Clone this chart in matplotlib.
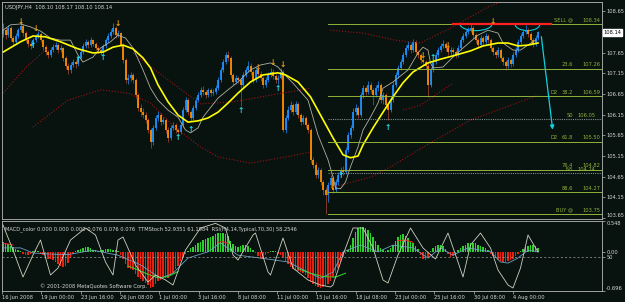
import numpy as np
import matplotlib.pyplot as plt
from matplotlib.patches import Arc
from matplotlib.transforms import blended_transform_factory

plt.rcParams['font.family'] = ['DejaVu Sans']

# USDJPY H4, 16 Jun - 4 Aug 2008
first_open = 108.10
closes = [108.19, 108.07, 108.24, 108.00, 107.91, 108.05, 108.19, 108.29, 108.12, 107.95,
          107.86, 107.81, 107.95, 108.05, 108.10, 107.95, 107.78, 107.66, 107.59, 107.71,
          107.78, 107.83, 107.71, 107.76, 107.52, 107.33, 107.23, 107.35, 107.42, 107.37,
          107.52, 107.66, 107.81, 107.91, 107.83, 107.95, 107.86, 107.76, 107.71, 107.66,
          107.81, 107.95, 108.05, 108.15, 108.24, 108.07, 108.12, 107.83, 107.47, 106.99,
          107.04, 107.11, 106.99, 106.62, 106.31, 106.21, 106.14, 106.02, 105.78, 105.49,
          105.83, 106.07, 106.14, 105.97, 106.02, 105.78, 105.59, 105.83, 105.90, 105.78,
          105.73, 105.90, 106.26, 106.50, 106.21, 106.07, 106.31, 106.50, 106.62, 106.75,
          106.70, 106.62, 106.75, 106.67, 106.70, 106.79, 106.99, 107.23, 107.42, 107.59,
          107.52, 107.11, 106.94, 107.04, 106.99, 106.87, 107.11, 107.23, 107.33, 107.18,
          106.99, 107.23, 107.13, 107.04, 106.87, 106.99, 107.11, 107.18, 107.08, 106.99,
          107.04, 107.18, 105.78, 106.07, 106.26, 106.38, 106.21, 106.41, 106.14, 105.97,
          106.07, 105.90, 105.78, 105.06, 104.93, 104.69, 104.81, 104.52, 104.33, 104.21,
          104.45, 104.62, 104.33, 104.52, 104.69, 104.81, 104.76, 105.30, 105.66, 105.83,
          106.21, 106.31, 106.14, 106.62, 106.79, 106.70, 106.87, 106.75, 106.62, 106.79,
          106.87, 106.50, 106.62, 106.38, 106.26, 106.50, 106.87, 107.11, 107.28, 107.42,
          107.59, 107.76, 107.83, 107.71, 107.91, 107.66, 107.59, 107.47, 107.42, 107.33,
          106.87, 107.23, 107.42, 107.59, 107.71, 107.81, 107.86, 107.76, 107.66, 107.71,
          107.66, 107.59, 107.76, 107.95, 108.05, 108.15, 108.19, 108.24, 108.07, 107.95,
          107.83, 108.00, 107.91, 108.05, 107.95, 107.76, 107.66, 107.59, 107.71, 107.52,
          107.42, 107.33, 107.47, 107.37, 107.59, 107.71, 107.91, 108.05, 108.15, 108.19,
          108.10, 107.95, 107.86, 108.00, 108.14]
highs = [108.36, 108.27, 108.32, 108.29, 108.05, 108.12, 108.24, 108.38, 108.33, 108.17,
         108.00, 107.93, 108.00, 108.10, 108.17, 108.14, 107.98, 107.83, 107.71, 107.78,
         107.86, 107.91, 107.88, 107.83, 107.79, 107.57, 107.40, 107.42, 107.50, 107.47,
         107.57, 107.72, 107.88, 107.98, 107.95, 108.02, 107.98, 107.90, 107.80, 107.76,
         107.86, 108.00, 108.12, 108.22, 108.36, 108.29, 108.20, 108.15, 107.88, 107.52,
         107.13, 107.18, 107.16, 107.04, 106.67, 106.41, 106.31, 106.21, 106.07, 105.83,
         105.90, 106.14, 106.24, 106.19, 106.10, 106.07, 105.85, 105.90, 105.97, 105.95,
         105.83, 105.97, 106.33, 106.58, 106.55, 106.26, 106.38, 106.58, 106.70, 106.82,
         106.84, 106.75, 106.80, 106.80, 106.77, 106.87, 107.06, 107.30, 107.50, 107.66,
         107.69, 107.57, 107.16, 107.11, 107.09, 107.04, 107.18, 107.30, 107.45, 107.40,
         107.23, 107.30, 107.30, 107.20, 107.09, 107.06, 107.18, 107.28, 107.25, 107.13,
         107.11, 107.28, 107.23, 106.14, 106.36, 106.48, 106.43, 106.48, 106.46, 106.19,
         106.14, 106.12, 105.95, 105.83, 105.13, 105.01, 104.88, 104.86, 104.57, 104.40,
         104.52, 104.69, 104.67, 104.60, 104.76, 104.88, 104.90, 105.37, 105.73, 105.90,
         106.31, 106.41, 106.36, 106.70, 106.87, 106.84, 106.96, 106.94, 106.79, 106.87,
         106.96, 106.92, 106.70, 106.67, 106.43, 106.58, 106.94, 107.18, 107.35, 107.50,
         107.66, 107.83, 107.93, 107.88, 107.98, 107.95, 107.71, 107.64, 107.54, 107.47,
         107.40, 107.30, 107.50, 107.66, 107.78, 107.88, 107.95, 107.91, 107.81, 107.78,
         107.78, 107.71, 107.83, 108.02, 108.12, 108.22, 108.27, 108.34, 108.29, 108.12,
         108.00, 108.07, 108.05, 108.12, 108.10, 108.00, 107.81, 107.71, 107.78, 107.76,
         107.57, 107.47, 107.54, 107.52, 107.66, 107.78, 107.98, 108.12, 108.22, 108.32,
         108.24, 108.15, 108.00, 108.07, 108.17]
lows = [108.02, 107.98, 108.03, 107.93, 107.83, 107.88, 108.00, 108.15, 108.05, 107.90,
        107.78, 107.74, 107.79, 107.91, 108.00, 107.90, 107.72, 107.59, 107.52, 107.55,
        107.66, 107.74, 107.64, 107.66, 107.45, 107.25, 107.13, 107.16, 107.30, 107.28,
        107.33, 107.48, 107.62, 107.76, 107.76, 107.79, 107.80, 107.70, 107.64, 107.58,
        107.62, 107.76, 107.90, 108.00, 108.10, 108.00, 108.02, 107.78, 107.40, 106.92,
        106.90, 106.97, 106.92, 106.55, 106.24, 106.12, 106.07, 105.95, 105.70, 105.35,
        105.42, 105.78, 106.00, 105.90, 105.92, 105.70, 105.49, 105.54, 105.78, 105.70,
        105.64, 105.68, 105.85, 106.21, 106.14, 106.00, 106.02, 106.26, 106.45, 106.58,
        106.62, 106.55, 106.58, 106.60, 106.62, 106.65, 106.74, 106.94, 107.18, 107.37,
        107.45, 107.04, 106.87, 106.89, 106.92, 106.36, 106.82, 107.06, 107.18, 107.11,
        106.92, 106.94, 107.06, 106.97, 106.79, 106.82, 106.94, 107.06, 107.01, 106.92,
        106.90, 107.00, 105.73, 105.70, 106.02, 106.21, 106.14, 106.17, 106.07, 105.90,
        105.92, 105.83, 105.70, 104.98, 104.85, 104.62, 104.62, 104.45, 104.21, 103.76,
        104.05, 104.38, 104.26, 104.28, 104.45, 104.64, 104.69, 104.72, 105.25, 105.59,
        105.78, 106.14, 106.07, 106.10, 106.55, 106.62, 106.65, 106.67, 106.38, 106.57,
        106.72, 106.43, 106.41, 106.31, 106.02, 106.21, 106.45, 106.82, 107.04, 107.23,
        107.37, 107.54, 107.71, 107.64, 107.66, 107.59, 107.52, 107.40, 107.35, 107.25,
        106.58, 106.82, 107.18, 107.37, 107.54, 107.66, 107.76, 107.69, 107.59, 107.59,
        107.59, 107.52, 107.54, 107.71, 107.90, 108.00, 108.10, 108.15, 108.00, 107.88,
        107.76, 107.78, 107.83, 107.86, 107.88, 107.69, 107.59, 107.52, 107.54, 107.45,
        107.35, 107.23, 107.28, 107.30, 107.33, 107.54, 107.66, 107.86, 108.00, 108.10,
        108.02, 107.88, 107.78, 107.81, 107.95]

# moving averages (yellow slow, grey fast), read at sample bars
ma_slow_bars = [0, 7, 12, 17, 23, 30, 36, 40, 44, 48, 52, 56, 59, 62, 66, 70, 74, 78, 82, 86,
                90, 94, 99, 104, 110, 113, 118, 123, 127, 132, 136, 139, 142, 144, 148, 152,
                156, 160, 164, 170, 175, 180, 187, 192, 198, 202, 206, 210, 214]
ma_slow = [107.66, 107.91, 108.05, 108.03, 107.91, 107.74, 107.64, 107.66, 107.78, 107.83,
           107.74, 107.52, 107.28, 106.87, 106.46, 106.14, 105.97, 106.00, 106.07, 106.21,
           106.43, 106.67, 106.94, 107.11, 107.16, 107.11, 106.94, 106.58, 106.14, 105.59,
           105.18, 105.11, 105.15, 105.42, 105.83, 106.21, 106.58, 106.92, 107.18, 107.40,
           107.49, 107.57, 107.69, 107.81, 107.88, 107.88, 107.81, 107.83, 107.88]
ma_fast_bars = [0, 3, 7, 11, 15, 19, 23, 27, 30, 32, 36, 39, 43, 46, 49, 52, 56, 59, 62, 66,
                70, 73, 75, 78, 80, 86, 90, 94, 99, 103, 107, 110, 112, 116, 122, 126, 130,
                132, 133, 135, 137, 139, 142, 144, 147, 150, 152, 156, 162, 166, 168, 170,
                171, 172, 176, 180, 184, 190, 194, 198, 200, 204, 207, 210, 213]
ma_fast = [108.19, 108.32, 108.34, 108.27, 108.17, 108.00, 107.95, 107.95, 107.59, 107.42,
           107.54, 107.76, 107.91, 108.07, 108.00, 107.76, 107.23, 106.79, 106.50, 106.26,
           106.09, 105.78, 105.71, 105.83, 106.09, 106.55, 106.75, 106.94, 107.23, 107.35,
           107.40, 107.30, 107.16, 106.91, 106.50, 105.66, 105.06, 104.65, 104.38, 104.36,
           104.52, 104.89, 105.37, 105.78, 106.09, 106.43, 106.79, 106.94, 107.23, 107.64,
           107.78, 107.71, 107.40, 107.28, 107.30, 107.54, 107.76, 108.07, 108.19, 108.12,
           107.88, 107.71, 107.71, 107.83, 107.95]

# dotted channel curves (dark red), sampled
band_a_bars = [0, 9, 18]
band_a = [106.67, 107.28, 107.76]
band_b_bars = [12, 26, 39, 50, 59, 69, 79, 86, 99, 115, 123]
band_b = [105.85, 106.50, 106.75, 106.67, 106.43, 105.83, 105.37, 105.13, 104.98, 105.15, 105.25]
band_c_bars = [52, 66, 79, 92, 123]
band_c = [107.64, 106.99, 106.41, 106.46, 106.79]
band_d_bars = [131, 144, 157, 167, 179, 194, 201]
band_d = [108.19, 108.12, 107.95, 107.88, 108.24, 108.75, 108.92]
band_e_bars = [132, 147, 155, 171, 187, 214]
band_e = [104.40, 104.64, 104.89, 105.47, 106.02, 106.62]
band_f_bars = [160, 167, 180]
band_f = [106.26, 106.38, 106.91]

# fractal arrows
arrow_dn_bars = [7, 13, 46, 102, 108, 112, 168, 178, 196]
arrow_dn_price = [108.41, 108.24, 108.34, 107.28, 107.42, 107.35, 107.59, 107.81, 108.39]
arrow_up_bars = [12, 30, 40, 70, 75, 95, 110, 135, 154, 172]
arrow_up_price = [107.83, 107.49, 107.54, 105.59, 105.78, 106.26, 106.77, 104.67, 105.83, 107.52]

# fibonacci drawn from the 15 Jul low to the high
fib_start_bar = 130
fib_levels = [108.34, 107.26, 106.59, 105.50, 104.82, 104.27, 103.75]
fib_names = ['SELL @', '23.6', '38.2', '61.8', '76.4', '88.6', 'BUY @']
fib_tags = ['', '', 'D2', 'D2', '', '', '']
pivot_levels = [106.05, 104.74]
pivot_names = ['S0', 'N3']

# indicator window
macd_hist = [0.17, 0.16, 0.14, 0.11, 0.08, 0.05, 0.03, 0.02, -0.04, -0.06,
             -0.05, -0.03, 0.01, 0.03, 0.02, -0.03, -0.06, -0.09, -0.12, -0.13,
             -0.15, -0.18, -0.21, -0.25, -0.27, -0.25, -0.19, -0.11, -0.04, 0.01,
             0.03, 0.05, 0.07, 0.09, 0.08, 0.06, 0.04, 0.03, 0.02, 0.03,
             0.04, 0.05, 0.05, 0.05, 0.04, 0.03, 0.02, -0.06, -0.13, -0.22,
             -0.28, -0.30, -0.33, -0.39, -0.45, -0.49, -0.52, -0.55, -0.59, -0.64,
             -0.62, -0.57, -0.52, -0.50, -0.47, -0.47, -0.46, -0.42, -0.37, -0.31,
             -0.25, -0.17, -0.09, -0.03, 0.02, 0.06, 0.09, 0.12, 0.15, 0.18,
             0.21, 0.23, 0.25, 0.27, 0.29, 0.31, 0.33, 0.34, 0.34, 0.32,
             0.28, 0.20, 0.14, 0.10, 0.08, 0.10, 0.12, 0.12, 0.10, 0.07,
             0.03, -0.02, -0.08, -0.13, -0.12, -0.06, -0.02, 0.01, 0.02, 0.01,
             -0.03, -0.05, -0.10, -0.17, -0.22, -0.27, -0.30, -0.32, -0.34, -0.36,
             -0.38, -0.42, -0.47, -0.53, -0.58, -0.61, -0.63, -0.64, -0.63, -0.61,
             -0.58, -0.52, -0.45, -0.37, -0.28, -0.18, -0.10, -0.03, 0.04, 0.12,
             0.25, 0.36, 0.43, 0.45, 0.45, 0.42, 0.38, 0.33, 0.26, 0.19,
             0.12, 0.06, 0.03, 0.01, 0.03, 0.07, 0.12, 0.20, 0.27, 0.30,
             0.31, 0.29, 0.25, 0.20, 0.15, 0.10, 0.05, -0.05, -0.12, -0.15,
             -0.10, 0.02, 0.06, 0.10, 0.12, 0.12, 0.10, 0.05, -0.04, -0.09,
             -0.08, -0.03, 0.03, 0.06, 0.10, 0.13, 0.15, 0.16, 0.16, 0.15,
             0.13, 0.11, 0.09, 0.06, 0.03, -0.03, -0.07, -0.11, -0.14, -0.17,
             -0.18, -0.18, -0.17, -0.15, -0.12, -0.08, -0.03, 0.02, 0.05, 0.08,
             0.11, 0.12, 0.12, 0.10, 0.076]
macd_sig_bars = [0, 7, 12, 19, 26, 36, 46, 55, 63, 68, 74, 82, 87, 94, 103, 114, 122, 127,
                 132, 136, 143, 150, 156, 164, 170, 175, 180, 186, 195, 199, 202, 206, 210, 214]
macd_sig = [0.07, 0.07, -0.02, -0.04, -0.05, 0.03, -0.06, -0.23, -0.47, -0.38, -0.11, 0.0,
            0.16, -0.06, -0.11, -0.18, -0.36, -0.47, -0.36, 0.0, 0.12, 0.0, 0.12, 0.07,
            -0.11, 0.07, -0.06, 0.07, 0.0, -0.18, -0.20, -0.11, 0.03, 0.0]
col_line_bars = [0, 2, 4, np.nan, 86, 88, 90, np.nan, 158, 161, 164, np.nan,
                 50, 54, 58, 62, 66, 70, np.nan, 118, 123, 128, 133, 137]
col_line = [0.15, 0.14, 0.12, np.nan, 0.17, 0.18, 0.15, np.nan, 0.20, 0.21, 0.17, np.nan,
            -0.25, -0.32, -0.40, -0.46, -0.44, -0.35, np.nan, -0.30, -0.38, -0.44, -0.45, -0.38]
stoch_bars = [0, 4, 8, 12, 15, 19, 22, 27, 33, 37, 41, 44, 46, 48, 53, 58, 61, 65, 68, 73,
              79, 85, 89, 92, 94, 100, 101, 106, 107, 112, 116, 122, 127, 131, 132, 136, 140,
              144, 148, 152, 154, 158, 163, 168, 173, 178, 182, 184, 187, 191, 195, 198, 202,
              204, 207, 210, 214]
stoch = [97.1, 60.3, 20.6, 53.0, 75.0, 23.5, 33.8, 75.0, 92.7, 82.4, 42.7, 23.5, 75.0, 79.5,
         38.3, 13.2, 23.5, 16.2, 8.8, 60.3, 92.7, 99.5, 92.7, 53.0, 45.6, 82.4, 85.3, 28.0,
         23.5, 78.0, 33.8, 16.2, 8.8, 5.9, 8.8, 53.0, 92.7, 92.7, 63.3, 16.2, 11.8, 53.0, 92.7,
         63.3, 47.1, 85.3, 42.7, 20.6, 67.7, 85.3, 63.3, 30.9, 8.8, 4.4, 33.8, 82.4, 57.4]

date_labels = ['16 Jun 2008', '19 Jun 00:00', '23 Jun 16:00', '26 Jun 08:00', '1 Jul 00:00',
               '3 Jul 16:00', '8 Jul 08:00', '11 Jul 00:00', '15 Jul 16:00', '18 Jul 08:00',
               '23 Jul 00:00', '25 Jul 16:00', '30 Jul 08:00', '4 Aug 00:00']
price_ticks = [103.65, 104.15, 104.65, 105.15, 105.65, 106.15, 106.65, 107.15, 107.65, 108.65]
last_price = 108.14

W, H = 625, 302
bg = '#08120f'
frame = '#b8b8b8'
txt = '#d8d8d8'
fs = 3.7

fig = plt.figure(figsize=(W / 100, H / 100), dpi=100)
fig.patch.set_facecolor(bg)
ax = fig.add_axes([2 / W, 1 - 218.5 / H, 600 / W, 216.5 / H])
sub = fig.add_axes([2 / W, 1 - 291 / H, 600 / W, 70 / H])
for a in (ax, sub):
    a.set_facecolor(bg)
    a.set_xlim(-0.4, 239.6)
    for s in a.spines.values():
        s.set_color(frame)
        s.set_linewidth(0.6)

# ---- candles ----
c = np.array(closes)
o = np.array([first_open] + closes[:-1])
hi = np.array(highs)
lo = np.array(lows)
bars = np.arange(len(c))
up = c >= o
ax.vlines(bars[up], lo[up], hi[up], color='#1e90ff', lw=0.5)
ax.vlines(bars[~up], lo[~up], hi[~up], color='#b04a30', lw=0.5)
ax.vlines(bars[up], o[up], c[up], color='#1e90ff', lw=1.3)
ax.vlines(bars[~up], c[~up], o[~up], color='#ff8c00', lw=1.3)

dots = dict(color='#9a1414', lw=0.8, ls=(0, (1, 1.6)))
for bx, by in [(band_a_bars, band_a), (band_b_bars, band_b), (band_c_bars, band_c),
               (band_d_bars, band_d), (band_e_bars, band_e), (band_f_bars, band_f)]:
    ax.plot(bx, by, **dots)

ax.plot(ma_fast_bars, ma_fast, color='#b0b0a0', lw=0.6)
ax.plot(ma_slow_bars, ma_slow, color='#ffff00', lw=1.2)

for b, p in zip(arrow_dn_bars, arrow_dn_price):
    ax.text(b, p, '↓', color='#f0a010', fontsize=5.5, fontweight='bold', ha='center', va='center')
for b, p in zip(arrow_up_bars, arrow_up_price):
    ax.text(b, p, '↑', color='#20e0e0', fontsize=5.5, fontweight='bold', ha='center', va='center')

# fibonacci / pivot levels
xr = ax.get_xlim()[1]
fib_col = '#8fb43a'
for lvl, name, tag in zip(fib_levels, fib_names, fib_tags):
    ax.plot([fib_start_bar, xr], [lvl, lvl], color=fib_col, lw=0.7)
    ax.text(238.8, lvl + 0.03, f'{lvl:.2f}', color=fib_col, fontsize=fs, ha='right', va='bottom')
    ax.text(228.0, lvl + 0.03, name, color=fib_col, fontsize=fs, ha='right', va='bottom')
    if tag:
        ax.text(219.0, lvl + 0.03, tag, color=fib_col, fontsize=fs, ha='left', va='bottom')
for lvl, name in zip(pivot_levels, pivot_names):
    ax.plot([fib_start_bar, xr], [lvl, lvl], color='#7f9090', lw=0.8, ls=(0, (1, 1)))
    ax.text(237.0, lvl + 0.03, f'{lvl:.2f}', color=fib_col, fontsize=fs, ha='right', va='bottom')
    ax.text(228.0, lvl + 0.03, name, color=fib_col, fontsize=fs, ha='right', va='bottom')

# hand drawn marks
ax.plot([180, 219], [108.34, 108.34], color='#ff2020', lw=1.6)
ax.add_patch(Arc((189.2, 108.34), 12.8, 0.32, theta1=180, theta2=360, color='#10c8d8', lw=0.8))
ax.add_patch(Arc((209.8, 108.34), 10.0, 0.32, theta1=180, theta2=360, color='#10c8d8', lw=0.8))
ax.annotate('', xy=(220, 105.72), xytext=(215.2, 108.10),
            arrowprops=dict(arrowstyle='-|>', color='#10d0e0', lw=0.9, mutation_scale=6))

ax.set_ylim(103.642, 108.871)
ax.set_xticks([])
ax.yaxis.tick_right()
ax.set_yticks(price_ticks)
ax.set_yticklabels([f'{t:.2f}' for t in price_ticks])
ax.tick_params(axis='y', colors=frame, labelcolor=txt, labelsize=fs, length=2, width=0.5, pad=1)
ax.get_yticklabels()[0].set_va('bottom')
tr = blended_transform_factory(ax.transAxes, ax.transData)
ax.text(1.003, last_price, f'{last_price:.2f}', transform=tr, fontsize=fs, color='black',
        va='center', ha='left', bbox=dict(facecolor='white', edgecolor='white', pad=0.6))
fig.text(5 / W, 1 - 8 / H, 'USDJPY,H4  108.10 108.17 108.10 108.14', color=txt,
         fontsize=fs, va='center', ha='left')

# ---- indicator window ----
h = np.array(macd_hist)
sub.bar(bars, h, width=0.7, color=np.where(h >= 0, '#2ed02e', '#e82010'), linewidth=0)
sub.plot(macd_sig_bars, macd_sig, color='#6f9fc0', lw=0.6)
cl = np.array(col_line)
sub.plot(col_line_bars, np.where(cl > 0, cl, np.nan), color='#ff2020', lw=0.7)
sub.plot(col_line_bars, np.where(cl < 0, cl, np.nan), color='#30e030', lw=0.7)
sub.set_ylim(-0.696, 0.548)

st = sub.twinx()
st.set_ylim(0, 103)
st.axhline(50, color='#a0a0a0', lw=0.5, ls=(0, (3, 3)))
st.plot(stoch_bars, stoch, color='#d0d0c0', lw=0.6)
st.set_yticks([50])
st.set_yticklabels(['50'])
st.tick_params(axis='y', colors=frame, labelcolor=txt, labelsize=fs, length=2, width=0.5, pad=1)
for s in st.spines.values():
    s.set_visible(False)

# twinx moves the host ticks to the left, put them back on the right
sub.yaxis.tick_right()
sub.set_yticks([0.548, 0.0, -0.696])
sub.set_yticklabels(['0.548', '0.00', '-0.696'])
sub.tick_params(axis='y', colors=frame, labelcolor=txt, labelsize=fs, length=2, width=0.5, pad=1)
sub_labels = sub.get_yticklabels()
sub_labels[0].set_va('top')
sub_labels[2].set_va('bottom')

date_ticks = np.arange(len(date_labels)) * 15.72 - 0.4
sub.set_xticks(date_ticks)
sub.set_xticklabels(date_labels, ha='left')
sub.tick_params(axis='x', colors=frame, labelcolor=txt, labelsize=fs, length=2, width=0.5, pad=1)

fig.text(5 / W, 1 - 229 / H,
         'MACD_color 0.000 0.000 0.000 0.076 0.076 0.076  TTMStoch 52.9351 61.1984  '
         'RSI(H4,14,Typical,70,30) 58.2546', color=txt, fontsize=fs, va='center', ha='left')
fig.text(40 / W, 1 - 286 / H, '© 2001-2008 MetaQuotes Software Corp.', color=txt,
         fontsize=fs, va='center', ha='left')

fig.savefig('out.png', dpi=100, facecolor=bg)
